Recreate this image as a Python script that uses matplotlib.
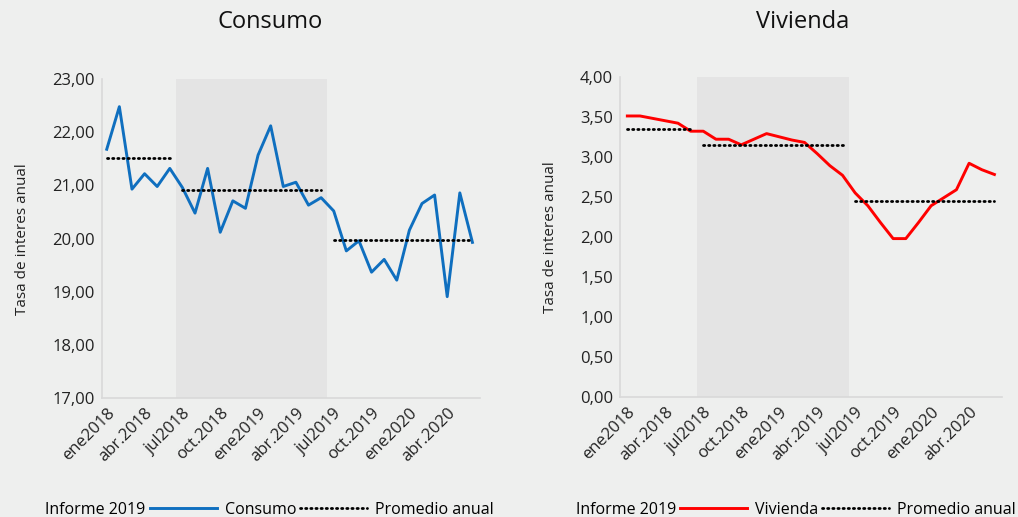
import matplotlib
matplotlib.use('Agg')
import matplotlib.pyplot as plt
import matplotlib.transforms as mtransforms
from matplotlib.lines import Line2D
from matplotlib.patches import Patch

plt.rcParams['font.family'] = ['Open Sans', 'DejaVu Sans']

# monthly data, ene 2018 - jun 2020
months = list(range(30))
tick_pos = [0, 3, 6, 9, 12, 15, 18, 21, 24, 27]
tick_labels = ['ene2018', 'abr.2018', 'jul2018', 'oct.2018', 'ene2019',
               'abr.2019', 'jul2019', 'oct.2019', 'ene2020', 'abr.2020']

consumo = [21.68, 22.48, 20.93, 21.22, 20.98, 21.32, 20.96, 20.48, 21.32, 20.12,
           20.71, 20.57, 21.57, 22.12, 20.98, 21.06, 20.63, 20.77, 20.52, 19.77,
           19.96, 19.37, 19.61, 19.22, 20.16, 20.66, 20.82, 18.91, 20.86, 19.93]
vivienda = [3.51, 3.51, 3.48, 3.45, 3.42, 3.32, 3.32, 3.22, 3.22, 3.15,
            3.22, 3.29, 3.25, 3.21, 3.18, 3.04, 2.89, 2.77, 2.55, 2.39,
            2.18, 1.98, 1.98, 2.18, 2.39, 2.49, 2.59, 2.92, 2.84, 2.78]

# promedio anual per period (start idx, end idx, value)
periods = [(0, 5), (6, 17), (18, 29)]
prom_consumo = [21.52, 20.92, 19.97]
prom_vivienda = [3.35, 3.15, 2.45]

informe_span = (5.5, 17.5)

bg = '#eeefee'
shade = '#e4e4e4'
blue = '#0f6fbf'
red = '#ff0000'

fig = plt.figure(figsize=(10.18, 5.17), dpi=100, facecolor=bg)
ax1 = fig.add_axes([101.7 / 1018, 1 - 398.3 / 517, (480 - 101.7) / 1018, (398.3 - 79) / 517])
ax2 = fig.add_axes([620 / 1018, 1 - 397.3 / 517, (1002 - 620) / 1018, (397.3 - 76.7) / 517])

dots = (0, (0.45, 1.4))


def draw(ax, values, proms, color, ylim, yticks, xlim, name, title, title_x, leg_x):
    ax.set_facecolor(bg)
    ax.axvspan(informe_span[0], informe_span[1], color=shade, lw=0, zorder=0)
    ax.plot(months, values, color=color, lw=2.1, zorder=3)
    for (a, b), v in zip(periods, proms):
        ax.plot(months[a:b + 1], [v] * (b - a + 1), color='black', lw=2.0,
                linestyle=dots, dash_capstyle='round', zorder=4)
    ax.set_xlim(*xlim)
    ax.set_ylim(*ylim)
    ax.set_yticks(yticks)
    ax.set_yticklabels([f'{t:.2f}'.replace('.', ',') for t in yticks], fontsize=12)
    ax.set_xticks(tick_pos)
    ax.set_xticklabels(tick_labels, rotation=45, ha='right', rotation_mode='anchor', fontsize=12)
    shift = mtransforms.ScaledTranslation(7 / 100, 0, fig.dpi_scale_trans)
    for lbl in ax.get_xticklabels():
        lbl.set_transform(lbl.get_transform() + shift)
    ax.tick_params(length=0, pad=5, colors='#222222')
    for s in ['top', 'right']:
        ax.spines[s].set_visible(False)
    for s in ['left', 'bottom']:
        ax.spines[s].set_color('#d9d9d9')
        ax.spines[s].set_linewidth(1.2)
    ax.set_ylabel('Tasa de interes anual', fontsize=11, labelpad=16, color='#222222')
    fig.text(title_x, 1 - 22 / 517, title, ha='center', va='center', fontsize=17, color='#111111')
    handles = [Patch(facecolor='none', edgecolor='none'),
               Line2D([], [], color=color, lw=2.1),
               Line2D([], [], color='black', lw=2.0, linestyle=dots, dash_capstyle='round')]
    ax.legend(handles, ['Informe 2019', name, 'Promedio anual'], ncol=3, frameon=False,
              loc='center', bbox_to_anchor=(leg_x, -0.35), fontsize=11.5,
              handlelength=4.2, handletextpad=0.5, columnspacing=0.25)


draw(ax1, consumo, prom_consumo, blue, (17, 23), [17, 18, 19, 20, 21, 22, 23],
     (-0.4, 29.6), 'Consumo', 'Consumo', 270 / 1018, 0.345)
draw(ax2, vivienda, prom_vivienda, red, (0, 4), [0, 0.5, 1, 1.5, 2, 2.5, 3, 3.5, 4],
     (-0.58, 29.6), 'Vivienda', 'Vivienda', 803 / 1018, 0.362)

fig.savefig('out.png', dpi=100, facecolor=bg)
